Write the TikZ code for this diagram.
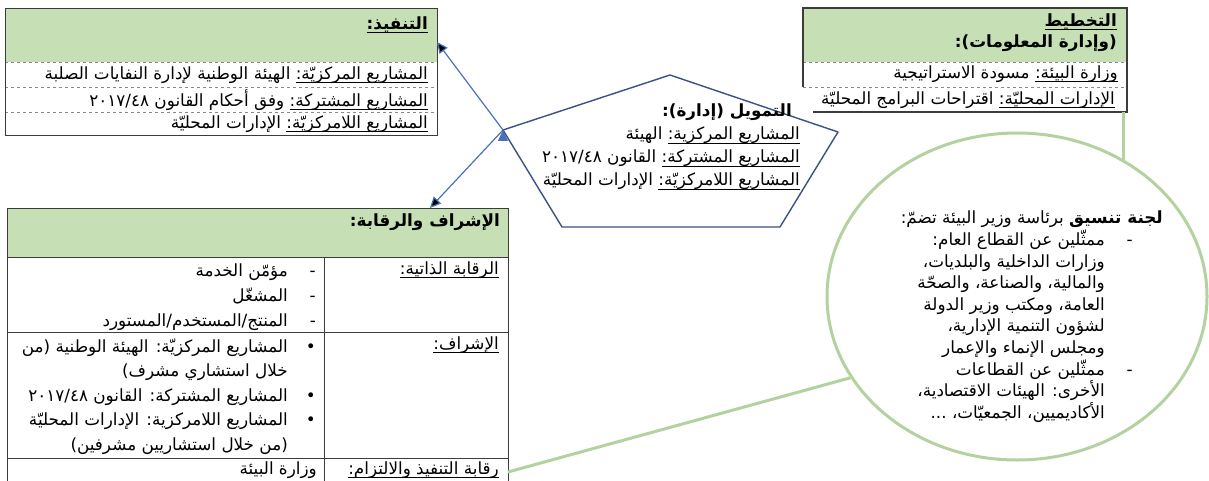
\documentclass[tikz,border=0pt]{standalone}
\usepackage{fontspec}
\newfontfamily\arabicfont[Script=Arabic]{DejaVu Sans}
\TeXXeTstate=1
\usetikzlibrary{arrows.meta,shapes.geometric}

\definecolor{headgreen}{HTML}{C6DFB5}
\definecolor{framegray}{HTML}{3C3C3C}
\definecolor{sepgray}{HTML}{8A8A8A}
\definecolor{pentablue}{HTML}{3A5185}
\definecolor{arrowblue}{HTML}{4A70BE}
\definecolor{ringgreen}{HTML}{B4D2A0}

\newcommand\rtxt[1]{\beginR#1\endR}
% underline just below the baseline, whatever the descenders
\newcommand\ulr[1]{{\setbox0=\hbox{\beginR#1\endR}\dimen0=\dp0
  \vtop{\copy0\kern-\dimen0\kern2.6pt\hrule height0.8pt}}}
\newcommand\dsh{\makebox[28pt][l]{-}}
\newcommand\bul{\makebox[28pt][l]{•}}
\newcommand\ind{\hspace*{28pt}}
\newcommand\cdsh{\makebox[58pt][l]{\hspace{30pt}-}}
\newcommand\cind{\hspace*{58pt}}

\begin{document}
\begin{tikzpicture}[x=1pt,y=-1pt,
    frame/.style={draw=framegray,line width=1.1pt,inner sep=0pt},
    headbg/.style={fill=headgreen},
    sepline/.style={draw=sepgray,dashed,line width=0.6pt},
    cellline/.style={draw=framegray,line width=1pt},
    txt/.style={inner sep=0pt,align=right,font=\arabicfont\fontsize{16.8}{21.6}\selectfont},
    penta/.style={draw=pentablue,line width=1.4pt,line join=round},
    arr/.style={draw=arrowblue,line width=1.2pt,-{Triangle[length=11pt,width=10pt]}},
    link/.style={draw=ringgreen,line width=3pt},
    ring/.style={ellipse,draw=ringgreen,line width=3pt,minimum width=380,minimum height=327,inner sep=0pt}]
  \useasboundingbox[fill=white] (0,0) rectangle (1209,481);

  % implementation box
  \fill[headbg] (5,8) rectangle (437,62);
  \draw[sepline] (5,62) -- (437,62) (5,87) -- (437,87) (5,112) -- (437,112);
  \node[frame,minimum width=432,minimum height=127,anchor=north west] (exec) at (5,8) {};
  \node[txt,anchor=east] (execTitle) at (428,25) {\rtxt{\bfseries\ulr{التنفيذ:}}};
  \node[txt,anchor=east] (execRowA) at (428,75) {\rtxt{\ulr{المشاريع المركزيّة:} الهيئة الوطنية لإدارة النفايات الصلبة}};
  \node[txt,anchor=east] (execRowB) at (428,100) {\rtxt{\ulr{المشاريع المشتركة:} وفق أحكام القانون ٢٠١٧/٤٨}};
  \node[txt,anchor=east] (execRowC) at (428,124) {\rtxt{\ulr{المشاريع اللامركزيّة:} الإدارات المحليّة}};

  % planning box
  \fill[headbg] (803,8) rectangle (1127,62);
  \draw[sepline] (803,62) -- (1127,62) (803,87) -- (1127,87);
  \draw[frame] (803,87) -- (803,8) -- (1127,8) -- (1127,112) -- (813,112);
  \node[txt,anchor=east] (planTitle) at (1117,22) {\rtxt{\bfseries\ulr{التخطيط}}};
  \node[txt,anchor=east] (planSub) at (1117,43) {\rtxt{\bfseries (وإدارة المعلومات):}};
  \node[txt,anchor=east] (planRowA) at (1118,74) {\rtxt{\ulr{وزارة البيئة:} مسودة الاستراتيجية}};
  \node[txt,anchor=east] (planRowB) at (1115,100) {\rtxt{\ulr{الإدارات المحليّة:} اقتراحات البرامج المحليّة}};

  % funding pentagon
  \coordinate (fT) at (670,75);
  \coordinate (fR) at (838,132);
  \coordinate (fBR) at (780,227);
  \coordinate (fBL) at (562,227);
  \coordinate (fL) at (503,130);
  \draw[penta] (fT) -- (fR) -- (fBR) -- (fBL) -- (fL) -- cycle;
  \node[txt,anchor=north east,font=\arabicfont\fontsize{16.8}{23}\selectfont] (fundText) at (800,104)
    {\rtxt{\hspace*{8pt}\bfseries التمويل (إدارة):}\\
     \rtxt{\ulr{المشاريع المركزية:} الهيئة}\\
     \rtxt{\ulr{المشاريع المشتركة:} القانون ٢٠١٧/٤٨}\\
     \rtxt{\ulr{المشاريع اللامركزيّة:} الإدارات المحليّة}};

  % supervision box
  \fill[headbg] (7,208) rectangle (508,257);
  \draw[cellline] (7,257) -- (508,257) (7,332) -- (508,332) (7,458) -- (508,458) (324,257) -- (324,486);
  \node[frame,minimum width=501,minimum height=280,anchor=north west] (sup) at (7,208) {};
  \node[txt,anchor=east] (supTitle) at (500,222) {\rtxt{\bfseries الإشراف والرقابة:}};
  \node[txt,anchor=east] (selfLbl) at (499,270) {\rtxt{\ulr{الرقابة الذاتية:}}};
  \node[txt,anchor=north east,font=\arabicfont\fontsize{16.8}{25}\selectfont] (selfList) at (316,264)
    {\rtxt{\dsh مؤمّن الخدمة}\\
     \rtxt{\dsh المشغّل}\\
     \rtxt{\dsh المنتج/المستخدم/المستورد}};
  \node[txt,anchor=east] (supLbl) at (499,345) {\rtxt{\ulr{الإشراف:}}};
  \node[txt,anchor=north east,font=\arabicfont\fontsize{16.8}{24.5}\selectfont] (supList) at (316,339)
    {\rtxt{\bul المشاريع المركزيّة: الهيئة الوطنية (من}\\
     \rtxt{\ind خلال استشاري مشرف)}\\
     \rtxt{\bul المشاريع المشتركة: القانون ٢٠١٧/٤٨}\\
     \rtxt{\bul المشاريع اللامركزية: الإدارات المحليّة}\\
     \rtxt{\ind (من خلال استشاريين مشرفين)}};
  \node[txt,anchor=east] (compLbl) at (499,470) {\rtxt{\ulr{رقابة التنفيذ والالتزام:}}};
  \node[txt,anchor=east] (compTxt) at (317,470) {\rtxt{وزارة البيئة}};

  % coordination committee
  \node[ring] (comm) at (1017,296.5) {};
  \node[txt,anchor=north east] (commText) at (1163,211)
    {\rtxt{\bfseries لجنة تنسيق\mdseries{} برئاسة وزير البيئة تضمّ:}\\
     \rtxt{\cdsh ممثّلين عن القطاع العام:}\\
     \rtxt{\cind وزارات الداخلية والبلديات،}\\
     \rtxt{\cind والمالية، والصناعة، والصحّة}\\
     \rtxt{\cind العامة، ومكتب وزير الدولة}\\
     \rtxt{\cind لشؤون التنمية الإدارية،}\\
     \rtxt{\cind ومجلس الإنماء والإعمار}\\
     \rtxt{\cdsh ممثّلين عن القطاعات}\\
     \rtxt{\cind الأخرى: الهيئات الاقتصادية،}\\
     \rtxt{\cind الأكاديميين، الجمعيّات، ...}};

  \coordinate (execIn) at (437,42);
  \coordinate (supIn) at (430,208);
  \coordinate (supOut) at (508,472);
  \coordinate (planOut) at (1123,112);

  \path[arr]
    (fL) edge (execIn)
    (fL) edge (supIn);
  \path[link]
    (comm.206) edge (supOut)
    (comm.52) edge (comm.52 |- planOut);
\end{tikzpicture}
\end{document}
